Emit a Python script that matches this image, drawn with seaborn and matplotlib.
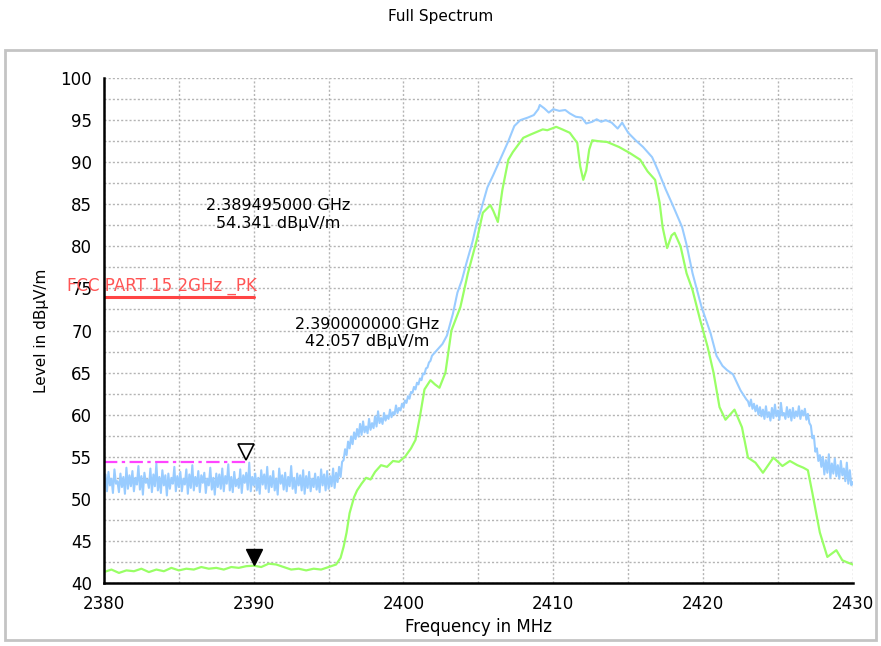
import numpy as np
import pandas as pd
import matplotlib
matplotlib.use("Agg")
import matplotlib.pyplot as plt
import seaborn as sns
from matplotlib.patches import Rectangle

# peak trace (blue), noisy floor 2380.0 - 2395.9 MHz, 0.1 MHz steps
blue_floor = [
    51.0, 52.9, 50.9, 53.2, 51.6, 52.4, 50.7, 53.5, 51.8, 52.1,
    50.8, 53.0, 51.4, 52.6, 50.6, 53.7, 51.2, 52.8, 51.5, 53.3,
    50.9, 52.5, 51.7, 53.9, 51.1, 52.7, 50.5, 53.1, 51.9, 52.3,
    51.3, 53.6, 50.8, 52.9, 51.5, 54.2, 51.0, 52.6, 50.7, 53.4,
    51.6, 52.8, 50.4, 53.0, 51.2, 52.5, 51.8, 53.8, 50.9, 52.7,
    51.4, 53.2, 50.9, 52.4, 51.7, 53.5, 50.6, 52.9, 51.3, 54.0,
    51.0, 52.6, 51.5, 53.3, 50.8, 52.8, 51.9, 53.1, 50.7, 52.4,
    51.6, 53.7, 51.1, 52.5, 50.5, 53.0, 51.4, 52.9, 51.2, 53.6,
    50.9, 52.7, 51.8, 54.1, 51.0, 52.6, 50.8, 53.2, 51.5, 52.3,
    51.3, 53.5, 50.7, 52.8, 51.9, 53.1, 51.1, 54.3, 50.9, 52.6,
    51.6, 53.0, 51.0, 52.5, 50.6, 53.4, 51.7, 52.9, 51.2, 53.8,
    50.8, 52.7, 51.4, 53.3, 51.0, 52.4, 50.5, 53.6, 51.8, 52.8,
    51.1, 53.1, 50.9, 52.6, 51.5, 53.9, 51.2, 52.5, 50.7, 53.0,
    51.6, 52.8, 51.0, 53.4, 50.6, 52.7, 51.3, 53.2, 50.9, 52.4,
    51.4, 53.0, 51.1, 52.6, 50.8, 53.5, 51.6, 52.9, 51.0, 53.3,
    51.2, 52.7, 51.5, 53.6, 51.3, 53.1, 52.0, 53.8, 52.6, 54.4,
]
# peak trace, rising shoulder 2396.0 - 2401.9 MHz, 0.1 MHz steps
blue_shoulder = [
    54.6, 55.9, 55.2, 56.8, 56.0, 57.4, 56.5, 57.9, 57.1, 58.3,
    57.4, 58.9, 57.6, 59.2, 57.9, 58.6, 57.8, 59.5, 58.2, 59.0,
    58.4, 59.8, 58.6, 60.4, 59.0, 59.6, 58.9, 60.2, 59.3, 59.9,
    59.5, 60.6, 59.7, 60.3, 60.0, 61.1, 60.2, 60.8, 60.5, 61.3,
    60.9, 61.7, 61.4, 62.2, 61.9, 62.7, 62.6, 63.3, 63.0, 63.8,
    63.6, 64.3, 64.1, 64.9, 64.8, 65.5, 65.6, 66.2, 66.4, 67.0,
]
# peak trace, main lobe
blue_lobe_freq = [
    2402.2, 2402.6, 2402.9, 2403.3, 2403.6, 2403.9, 2404.2, 2404.6, 2404.9, 2405.2,
    2405.6, 2406.0, 2406.5, 2407.0, 2407.4, 2407.8, 2408.3, 2408.7, 2409.0, 2409.1,
    2409.4, 2409.7, 2410.0, 2410.4, 2410.8, 2411.1, 2411.5, 2411.9, 2412.2, 2412.6,
    2412.9, 2413.2, 2413.5, 2413.9, 2414.3, 2414.6, 2415.0, 2415.5, 2416.0, 2416.6,
    2417.0, 2417.5, 2418.0, 2418.6, 2418.9, 2419.3, 2419.9, 2420.5, 2420.9, 2421.3,
    2421.6, 2422.0, 2422.5, 2422.9,
]
blue_lobe_level = [
    67.6, 68.4, 69.4, 72.0, 74.5, 76.0, 78.0, 80.5, 82.8, 84.5,
    87.0, 88.5, 90.5, 92.5, 94.3, 95.0, 95.3, 95.6, 96.3, 96.8,
    96.4, 95.9, 96.3, 96.1, 96.2, 95.8, 95.4, 95.3, 94.6, 94.8,
    95.1, 94.8, 95.0, 94.7, 94.0, 94.7, 93.5, 92.6, 91.8, 90.6,
    89.0, 86.8, 84.8, 82.3, 80.2, 76.8, 72.8, 69.7, 67.0, 65.8,
    65.3, 64.8, 62.9, 61.8,
]
# peak trace, upper skirt 2423.0 - 2430.0 MHz, 0.1 MHz steps
blue_skirt = [
    61.6, 61.0, 61.8, 60.7, 61.3, 60.4, 61.1, 60.0, 60.9, 59.8,
    60.6, 59.5, 61.0, 59.7, 60.3, 59.3, 60.8, 59.6, 61.2, 59.8,
    60.5, 59.4, 61.4, 59.9, 60.2, 59.5, 60.9, 59.7, 60.6, 59.3,
    60.8, 59.6, 60.4, 59.8, 61.0, 59.5, 60.5, 59.9, 60.7, 59.4,
    60.1, 59.0, 58.7, 57.2, 57.5, 55.6, 56.0, 54.5, 55.2, 53.8,
    55.0, 52.9, 54.6, 53.1, 55.3, 52.5, 54.2, 53.0, 54.8, 52.7,
    54.0, 52.4, 54.5, 52.8, 53.6, 52.1, 54.3, 51.8, 53.4, 51.6,
    52.0,
]

# average trace (green)
green_freq = [
    2380.0, 2380.5, 2381.0, 2381.5, 2382.0, 2382.5, 2383.0, 2383.5, 2384.0, 2384.5,
    2385.0, 2385.5, 2386.0, 2386.5, 2387.0, 2387.5, 2388.0, 2388.5, 2389.0, 2389.5,
    2390.0, 2390.5, 2391.0, 2391.5, 2392.0, 2392.5, 2393.0, 2393.5, 2394.0, 2394.5,
    2395.0, 2395.5, 2395.8, 2396.0, 2396.2, 2396.4, 2396.7, 2396.9, 2397.2, 2397.5,
    2397.8, 2398.1, 2398.5, 2398.9, 2399.3, 2399.7, 2400.1, 2400.5, 2400.8, 2401.1,
    2401.4, 2401.8, 2402.1, 2402.4, 2402.8, 2403.2, 2403.8, 2404.3, 2404.9, 2405.3,
    2405.8, 2406.0, 2406.3, 2406.6, 2407.0, 2407.3, 2408.0, 2408.5, 2408.9, 2409.3,
    2409.6, 2410.2, 2410.6, 2411.1, 2411.6, 2411.8, 2412.0, 2412.2, 2412.4, 2412.6,
    2413.0, 2413.6, 2414.4, 2415.1, 2415.8, 2416.3, 2416.8, 2417.1, 2417.3, 2417.6,
    2417.9, 2418.1, 2418.5, 2418.9, 2419.3, 2419.8, 2420.3, 2420.7, 2421.1, 2421.5,
    2422.1, 2422.6, 2423.0, 2423.5, 2424.0, 2424.7, 2425.3, 2425.8, 2426.3, 2426.7,
    2427.0, 2427.3, 2427.8, 2428.3, 2428.9, 2429.3, 2429.7, 2430.0,
]
green_level = [
    41.3, 41.6, 41.2, 41.5, 41.4, 41.7, 41.3, 41.6, 41.4, 41.8,
    41.5, 41.7, 41.6, 41.9, 41.7, 41.8, 41.6, 41.9, 41.8, 42.0,
    42.06, 41.9, 42.3, 42.2, 41.9, 41.6, 41.7, 41.5, 41.7, 41.6,
    41.9, 42.2, 43.0, 44.3, 46.0, 48.3, 50.2, 51.0, 51.8, 52.5,
    52.3, 53.2, 54.0, 53.8, 54.5, 54.4, 55.0, 56.0, 57.0, 59.8,
    63.0, 64.1, 63.6, 63.2, 65.0, 70.0, 72.8, 76.8, 80.8, 84.0,
    84.9, 84.2, 82.9, 86.7, 90.3, 91.2, 92.9, 93.3, 93.6, 93.9,
    93.8, 94.2, 93.9, 93.5, 92.3, 89.5, 87.9, 89.0, 91.5, 92.6,
    92.5, 92.4, 91.8, 91.1, 90.3, 88.9, 87.9, 85.2, 82.3, 79.8,
    81.3, 81.6, 80.0, 76.8, 74.8, 71.3, 68.1, 65.0, 60.9, 59.4,
    60.6, 58.5, 54.9, 54.3, 53.1, 54.9, 53.9, 54.5, 54.0, 53.7,
    53.4, 50.7, 46.0, 43.1, 43.9, 42.7, 42.4, 42.2,
]

# limit line and markers
limit_name = "FCC PART 15 2GHz _PK"
limit_span = [2380, 2390]
limit_level = 74.0
m1_freq, m1_level = 2389.495, 54.341
m2_freq, m2_level = 2390.0, 42.057

blue_freq = np.concatenate([
    np.round(np.arange(2380.0, 2395.95, 0.1), 1),
    np.round(np.arange(2396.0, 2401.95, 0.1), 1),
    blue_lobe_freq,
    np.round(np.arange(2423.0, 2430.05, 0.1), 1),
])
blue_level = np.concatenate([blue_floor, blue_shoulder, blue_lobe_level, blue_skirt])
peak = pd.DataFrame({"freq": blue_freq, "level": blue_level})
avg = pd.DataFrame({"freq": green_freq, "level": green_level})

sns.set_style("white")
plt.rcParams["font.family"] = ["DejaVu Sans"]
plt.rcParams["text.color"] = "black"
plt.rcParams["axes.labelcolor"] = "black"

fig = plt.figure(figsize=(8.81, 6.46), dpi=100)
fig.patches.append(Rectangle((0.006, 0.01), 0.988, 0.913, transform=fig.transFigure,
                             fill=False, edgecolor="#c4c4c4", lw=2))
fig.text(0.5, 0.975, "Full Spectrum", ha="center", va="center", fontsize=11)

ax = fig.add_axes([0.118, 0.0975, 0.850, 0.7817])
sns.lineplot(data=peak, x="freq", y="level", estimator=None, sort=False,
             color="#99ccff", lw=1.5, ax=ax)
sns.lineplot(data=avg, x="freq", y="level", estimator=None, sort=False,
             color="#99ff66", lw=1.6, ax=ax)

ax.plot(limit_span, [limit_level, limit_level], color="#ff4444", lw=2.2)
ax.text(2377.5, limit_level + 0.75, limit_name, color="#ff5555", fontsize=12,
        va="baseline", ha="left", clip_on=False)
ax.plot([2380, m1_freq], [m1_level, m1_level], color="#ff44ff", lw=1.6,
        ls=(0, (6, 2, 1.5, 2)))
ax.plot([m1_freq], [m1_level + 1.2], marker="v", ms=11, mfc="white", mec="black",
        mew=1.2, clip_on=False)
ax.plot([m2_freq], [m2_level + 1.0], marker="v", ms=11, color="black", clip_on=False)

ax.text(2391.6, 83.8, f"{m1_freq / 1000:.9f} GHz\n{m1_level:.3f} dBµV/m",
        ha="center", va="center", fontsize=11.5, linespacing=1.2)
ax.text(2397.6, 69.7, f"{m2_freq / 1000:.9f} GHz\n{m2_level:.3f} dBµV/m",
        ha="center", va="center", fontsize=11.5, linespacing=1.2)

ax.set_xlim(2380, 2430)
ax.set_ylim(40, 100)
ax.set_xticks(np.arange(2380, 2431, 10))
ax.set_xticks(np.arange(2385, 2430, 10), minor=True)
ax.set_yticks(np.arange(40, 101, 5))
ax.set_yticks(np.arange(42.5, 100, 5), minor=True)
ax.tick_params(axis="both", which="both", direction="inout", length=10, width=1.5,
               labelsize=12, colors="black")
ax.grid(True, which="both", color="#b4b4b4", ls=(0, (1.5, 1.5)), lw=1)
for side in ["top", "right"]:
    ax.spines[side].set_visible(False)
for side in ["left", "bottom"]:
    ax.spines[side].set_color("black")
    ax.spines[side].set_linewidth(1.8)
ax.set_xlabel("Frequency in MHz", fontsize=12, labelpad=4)
ax.set_ylabel("Level in dBµV/m", fontsize=11, labelpad=8)

fig.savefig("out.png", dpi=100)
